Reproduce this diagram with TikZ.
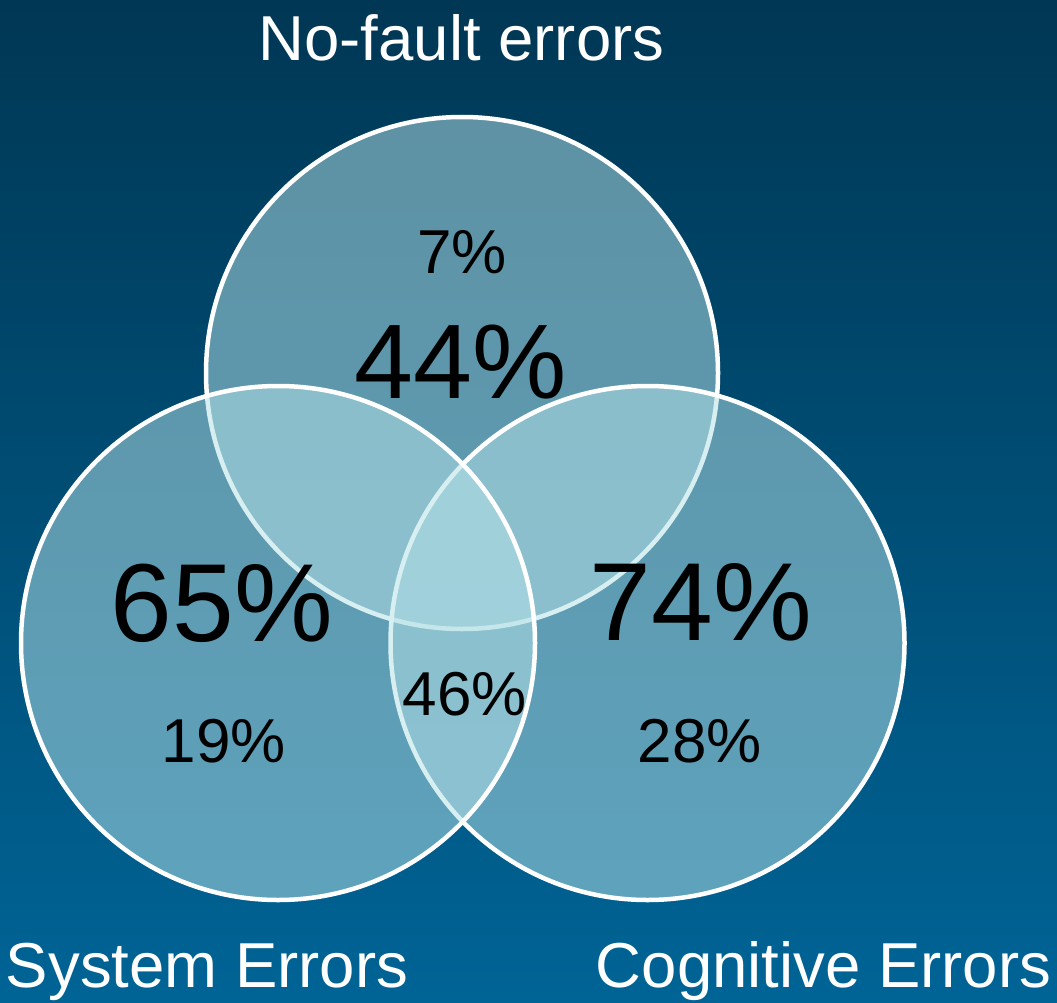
\documentclass[tikz,border=0pt]{standalone}
\usepackage{fontspec}
\setmainfont{Liberation Sans}
\begin{document}
\begin{tikzpicture}[x=1pt,y=-1pt,
  setcircle/.style={draw=white,line width=4.5pt,fill=setfill,fill opacity=0.52},
  title/.style={text=white,anchor=base,inner sep=0pt,font=\fontsize{63.5}{64}\selectfont},
  bigpct/.style={text=black,anchor=base,inner sep=0pt,font=\fontsize{106}{106}\selectfont},
  hugepct/.style={text=black,anchor=base,inner sep=0pt,font=\fontsize{111}{111}\selectfont},
  smallpct/.style={text=black,anchor=base,inner sep=0pt,font=\fontsize{62}{62}\selectfont}]
\definecolor{bgtop}{HTML}{003754}
\definecolor{bgbottom}{HTML}{006496}
\definecolor{setfill}{RGB}{181,225,231}
% background
\shade[top color=bgtop,bottom color=bgbottom] (0,0) rectangle (1057,1003);
\useasboundingbox (0,0) rectangle (1057,1003);
% the three sets
\draw[setcircle] (462,373) circle[radius=256];
\draw[setcircle] (647.5,643) circle[radius=257];
\draw[setcircle] (278,643) circle[radius=257];
% set labels
\node[title] (nofault) at (461.5,61) {No-fault errors};
\node[title] (system) at (207,987) {System Errors};
\node[title] (cognitive) at (823.5,987) {Cognitive Errors};
% percentages
\node[smallpct] (p7) at (462,273) {7\%};
\node[bigpct] (p44) at (461,398) {44\%};
\node[hugepct] (p65) at (222,641) {65\%};
\node[smallpct] (p19) at (224,762) {19\%};
\node[hugepct] (p74) at (701,640) {74\%};
\node[smallpct] (p28) at (700,762) {28\%};
\node[smallpct] (p46) at (465,715) {46\%};
\end{tikzpicture}
\end{document}
